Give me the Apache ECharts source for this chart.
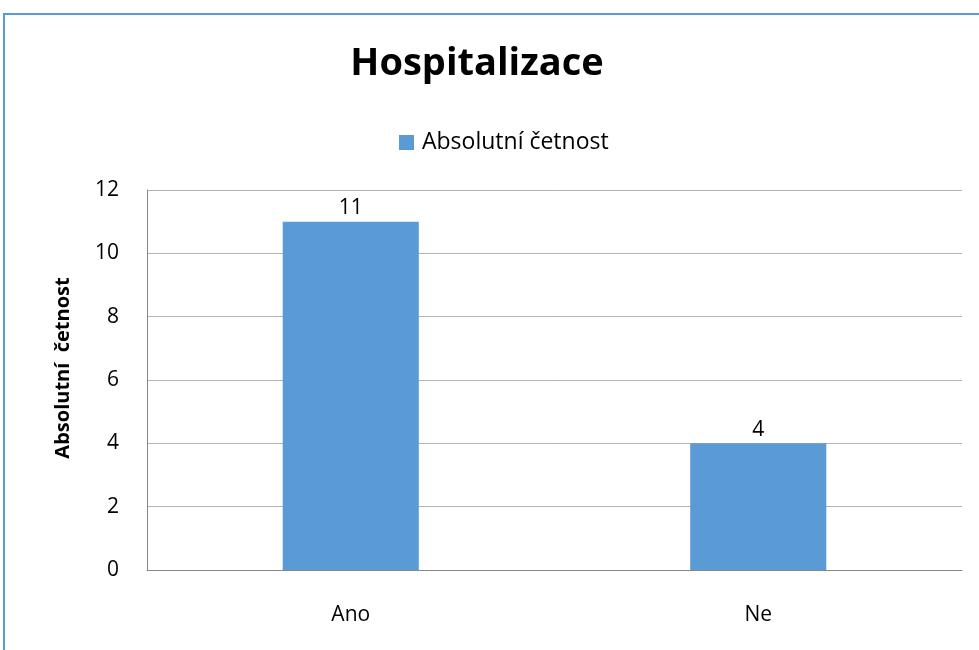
<!DOCTYPE html>
<html>
<head>
<meta charset="utf-8">
<script src="https://cdn.jsdelivr.net/npm/echarts@6/dist/echarts.min.js"></script>
<style>
html,body{margin:0;padding:0;background:#fff;}
#chart{width:979px;height:650px;}
</style>
</head>
<body>
<div id="chart"></div>
<script>
const categories = ['Ano', 'Ne'];
const values = [11, 4];
const seriesName = 'Absolutní četnost';
const yAxisName = 'Absolutní  četnost';
const titleText = 'Hospitalizace';

const chart = echarts.init(document.getElementById('chart'));
const font = 'Open Sans';
chart.setOption({
  animation: false,
  backgroundColor: '#fff',
  graphic: [{
    type: 'rect',
    shape: {x: 4, y: 14, width: 1100, height: 800},
    style: {fill: 'none', stroke: '#5b9bd5', lineWidth: 2},
    silent: true
  }],
  title: {
    text: titleText,
    left: 472,
    textAlign: 'center',
    top: 40,
    textStyle: {fontFamily: font, fontSize: 38, fontWeight: 'bold', color: '#000'}
  },
  legend: {
    data: [seriesName],
    top: 126,
    left: 394,
    icon: 'rect',
    itemWidth: 15,
    itemHeight: 15,
    itemGap: 4,
    textStyle: {fontFamily: font, fontSize: 23, color: '#000', padding: [0, 0, 0, 3]}
  },
  grid: {left: 147, top: 190, right: 17, bottom: 80, containLabel: false},
  xAxis: {
    type: 'category',
    data: categories,
    axisLine: {lineStyle: {color: '#868686', width: 1}},
    axisTick: {show: false},
    axisLabel: {fontFamily: font, fontSize: 21, color: '#000', margin: 35}
  },
  yAxis: {
    type: 'value',
    min: 0, max: 12, interval: 2,
    name: yAxisName,
    nameLocation: 'middle',
    nameGap: 74,
    nameTextStyle: {fontFamily: font, fontSize: 20, fontWeight: 'bold', color: '#000', padding: [0, 0, 0, 24]},
    axisLine: {show: true, lineStyle: {color: '#868686', width: 1}},
    axisTick: {show: false},
    axisLabel: {fontFamily: font, fontSize: 21, color: '#000', margin: 28},
    splitLine: {lineStyle: {color: '#b3b3b3', width: 1}}
  },
  series: [{
    name: seriesName,
    type: 'bar',
    data: values,
    barWidth: '33.4%',
    itemStyle: {color: '#5b9bd5'},
    label: {show: true, position: 'top', distance: 3, fontFamily: font, fontSize: 21, color: '#000'}
  }]
});
</script>
</body>
</html>
